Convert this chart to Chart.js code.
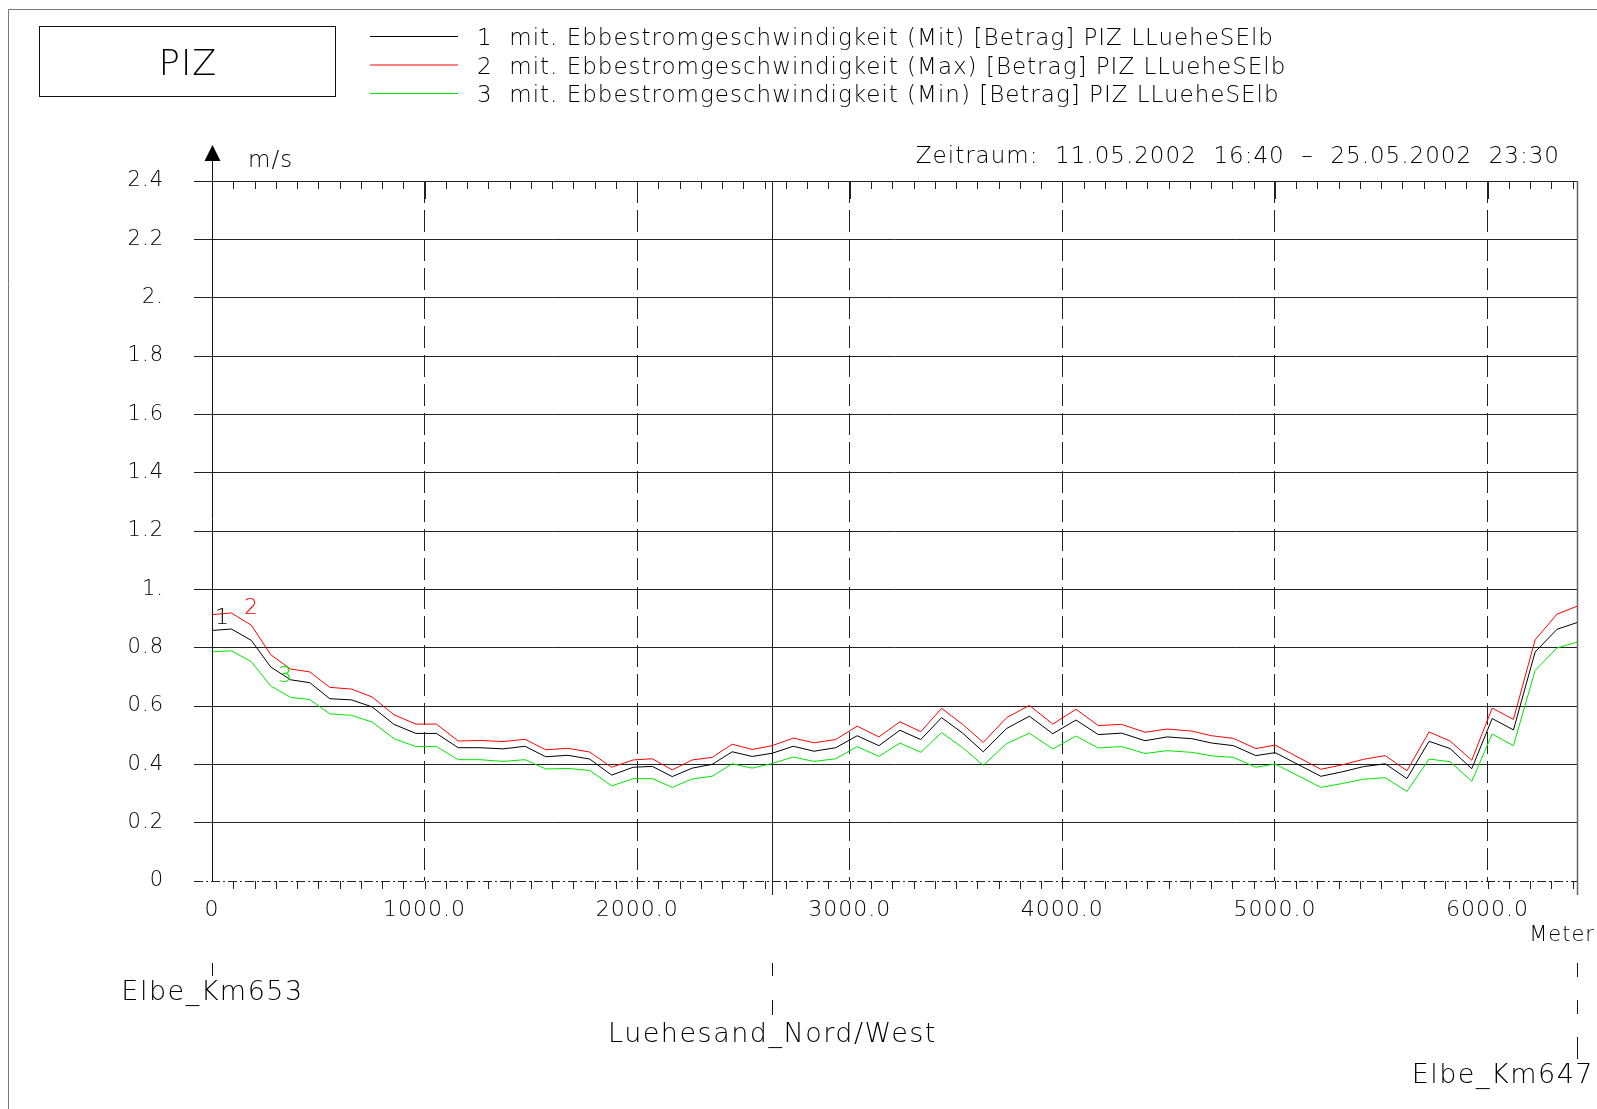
<!DOCTYPE html>
<html>
<head>
<meta charset="utf-8">
<script src="https://cdn.jsdelivr.net/npm/chart.js@4.4.1/dist/chart.umd.min.js"></script>
<style>
  html, body { margin: 0; padding: 0; background: #fff; }
  #chart { display: block; }
</style>
</head>
<body>
<canvas id="chart" width="1597" height="1109"></canvas>
<script>
// Abstand entlang des Profils (Meter)
const distances = [0, 91, 185, 276, 369, 460, 554, 656, 753, 856, 959, 1056, 1158, 1260, 1369, 1472,
  1570, 1675, 1777, 1880, 1981, 2071, 2165, 2259, 2353, 2447, 2541, 2635, 2734, 2832, 2934,
  3035, 3137, 3236, 3334, 3432, 3531, 3628, 3738, 3845, 3955, 4064, 4169, 4279, 4389, 4493,
  4609, 4703, 4805, 4910, 5001, 5216, 5315, 5416, 5519, 5621, 5725, 5824, 5926, 6022, 6122,
  6224, 6327, 6421];

const mitValues = [0.859, 0.864, 0.825, 0.734, 0.690, 0.680, 0.625, 0.621, 0.597, 0.537,
  0.506, 0.506, 0.457, 0.457, 0.453, 0.462, 0.426, 0.431, 0.418, 0.363,
  0.390, 0.393, 0.358, 0.387, 0.400, 0.443, 0.427, 0.438, 0.462, 0.445,
  0.457, 0.498, 0.464, 0.517, 0.485, 0.560, 0.507, 0.443, 0.523, 0.565,
  0.505, 0.552, 0.502, 0.507, 0.481, 0.494, 0.488, 0.473, 0.464, 0.430,
  0.440, 0.359, 0.374, 0.392, 0.402, 0.351, 0.479, 0.454, 0.385, 0.557,
  0.518, 0.785, 0.863, 0.886];

const maxValues = [0.913, 0.919, 0.877, 0.776, 0.727, 0.717, 0.664, 0.658, 0.631, 0.570,
  0.538, 0.538, 0.480, 0.482, 0.478, 0.486, 0.450, 0.455, 0.442, 0.390,
  0.415, 0.419, 0.381, 0.415, 0.424, 0.469, 0.451, 0.464, 0.490, 0.474,
  0.485, 0.531, 0.494, 0.546, 0.512, 0.592, 0.537, 0.475, 0.560, 0.602,
  0.538, 0.589, 0.533, 0.537, 0.510, 0.521, 0.514, 0.498, 0.489, 0.454,
  0.466, 0.383, 0.398, 0.417, 0.430, 0.378, 0.511, 0.480, 0.414, 0.593,
  0.554, 0.827, 0.915, 0.942];

const minValues = [0.786, 0.789, 0.752, 0.669, 0.630, 0.622, 0.573, 0.568, 0.545, 0.488,
  0.461, 0.461, 0.416, 0.416, 0.410, 0.416, 0.384, 0.386, 0.379, 0.326,
  0.351, 0.351, 0.321, 0.350, 0.359, 0.402, 0.387, 0.403, 0.425, 0.410,
  0.419, 0.461, 0.427, 0.473, 0.441, 0.509, 0.457, 0.397, 0.471, 0.507,
  0.453, 0.497, 0.456, 0.461, 0.437, 0.447, 0.441, 0.429, 0.424, 0.390,
  0.401, 0.321, 0.334, 0.349, 0.354, 0.307, 0.418, 0.409, 0.342, 0.504,
  0.464, 0.722, 0.799, 0.819];

const yTicks = [0, 0.2, 0.4, 0.6, 0.8, 1.0, 1.2, 1.4, 1.6, 1.8, 2.0, 2.2, 2.4];
const yTickLabels = ['0', '0.2', '0.4', '0.6', '0.8', '1.', '1.2', '1.4', '1.6', '1.8', '2.', '2.2', '2.4'];
const xTicks = [0, 1000, 2000, 3000, 4000, 5000, 6000];
const xTickLabels = ['0', '1000.0', '2000.0', '3000.0', '4000.0', '5000.0', '6000.0'];

const seriesNames = [
  '1  mit. Ebbestromgeschwindigkeit (Mit) [Betrag] PIZ LLueheSElb',
  '2  mit. Ebbestromgeschwindigkeit (Max) [Betrag] PIZ LLueheSElb',
  '3  mit. Ebbestromgeschwindigkeit (Min) [Betrag] PIZ LLueheSElb'
];
const seriesColors = ['#000000', '#ff0000', '#00e600'];

const sectionNames = ['Elbe_Km653', 'Luehesand_Nord/West', 'Elbe_Km647'];
const sectionDistances = [0, 2635, 6421];

const FONT = "'DejaVu Sans', sans-serif";
const xMax = 6421;

function toPoints(values) {
  return distances.map((d, i) => ({ x: d, y: values[i] }));
}

// Rahmen, Legende, Zusatzlinien und Beschriftungen
const decorations = {
  id: 'decorations',
  beforeDraw(chart) {
    // etwas breitere Schrift wie im CAD-Plot
    chart.ctx.letterSpacing = '1px';
  },
  beforeDatasetsDraw(chart) {
    const ctx = chart.ctx;
    const xs = chart.scales.x, ys = chart.scales.y;
    const top = ys.getPixelForValue(2.4), bottom = ys.getPixelForValue(0);
    ctx.save();
    ctx.strokeStyle = '#222';
    ctx.lineWidth = 1;
    // Kleine Striche oben und unten alle 100 m
    for (let m = 100; m < xMax; m += 100) {
      const px = Math.round(xs.getPixelForValue(m)) + 0.5;
      const len = m % 1000 === 0 ? 18 : 8;
      ctx.beginPath();
      ctx.moveTo(px, top); ctx.lineTo(px, top + len);
      ctx.moveTo(px, bottom); ctx.lineTo(px, bottom + 8);
      ctx.stroke();
    }
    // Null-Linie strichpunktiert
    ctx.setLineDash([9, 3, 2, 3]);
    ctx.beginPath();
    ctx.moveTo(194, Math.round(bottom) + 0.5);
    ctx.lineTo(xs.getPixelForValue(xMax), Math.round(bottom) + 0.5);
    ctx.stroke();
    ctx.setLineDash([]);
    // Luehesand-Linie und rechter Rand
    const pl = Math.round(xs.getPixelForValue(sectionDistances[1])) + 0.5;
    ctx.beginPath();
    ctx.moveTo(pl, top); ctx.lineTo(pl, bottom + 14);
    ctx.stroke();
    const pr = Math.round(xs.getPixelForValue(xMax)) + 0.5;
    ctx.strokeStyle = '#666';
    ctx.lineWidth = 1.5;
    ctx.beginPath();
    ctx.moveTo(pr, top); ctx.lineTo(pr, bottom + 14);
    ctx.stroke();
    ctx.restore();
  },
  afterDraw(chart) {
    const ctx = chart.ctx;
    const xs = chart.scales.x, ys = chart.scales.y;
    const bottom = ys.getPixelForValue(0);
    const x0 = Math.round(xs.getPixelForValue(0)) + 0.5;
    ctx.save();
    // Aeusserer Rahmen
    ctx.strokeStyle = '#777';
    ctx.lineWidth = 1;
    ctx.beginPath();
    ctx.moveTo(8.5, 1109); ctx.lineTo(8.5, 9.5); ctx.lineTo(1597, 9.5);
    ctx.stroke();
    // PIZ-Kasten
    ctx.strokeStyle = '#111';
    ctx.strokeRect(39.5, 26.5, 296, 70);
    ctx.fillStyle = '#000';
    ctx.textBaseline = 'middle';
    ctx.textAlign = 'center';
    ctx.letterSpacing = '1px';
    ctx.font = '200 35px ' + FONT;
    ctx.fillText('PIZ', 188, 66);
    // Legende
    ctx.font = '200 23px ' + FONT;
    ctx.textAlign = 'left';
    const legendY = [36.5, 65, 93.5];
    seriesNames.forEach((name, i) => {
      ctx.strokeStyle = seriesColors[i];
      ctx.beginPath();
      ctx.moveTo(370, legendY[i]); ctx.lineTo(458, legendY[i]);
      ctx.stroke();
      ctx.fillStyle = '#000';
      ctx.fillText(name, 477, legendY[i] + 3);
    });
    // Zeitraum
    ctx.textAlign = 'right';
    ctx.fillText('Zeitraum:  11.05.2002  16:40  \u2013  25.05.2002  23:30', 1560, 157);
    // Einheit und Pfeil
    ctx.textAlign = 'left';
    ctx.fillText('m/s', 248, 161);
    ctx.strokeStyle = '#111';
    ctx.beginPath();
    ctx.moveTo(x0, bottom); ctx.lineTo(x0, 158);
    ctx.stroke();
    ctx.beginPath();
    ctx.moveTo(x0, 145); ctx.lineTo(x0 - 8, 161); ctx.lineTo(x0 + 8, 161);
    ctx.closePath(); ctx.fill();
    // Meter
    ctx.font = '200 21px ' + FONT;
    ctx.textAlign = 'right';
    ctx.fillText('Meter', 1595, 936);
    // Profilpunkte unten
    const secX = sectionDistances.map(d => Math.round(xs.getPixelForValue(d)) + 0.5);
    ctx.beginPath();
    ctx.moveTo(secX[0], 963); ctx.lineTo(secX[0], 976);
    ctx.moveTo(secX[1], 963); ctx.lineTo(secX[1], 976);
    ctx.moveTo(secX[1], 1000); ctx.lineTo(secX[1], 1015);
    ctx.moveTo(secX[2], 963); ctx.lineTo(secX[2], 977);
    ctx.moveTo(secX[2], 1000); ctx.lineTo(secX[2], 1014);
    ctx.moveTo(secX[2], 1037); ctx.lineTo(secX[2], 1059);
    ctx.stroke();
    ctx.font = '200 27px ' + FONT;
    ctx.letterSpacing = '1.5px';
    ctx.textAlign = 'center';
    ctx.fillText(sectionNames[0], secX[0], 993);
    ctx.fillText(sectionNames[1], secX[1], 1035);
    ctx.textAlign = 'right';
    ctx.fillText(sectionNames[2], 1594, 1076);
    // Kurvennummern
    ctx.letterSpacing = '0px';
    ctx.font = '200 22px ' + FONT;
    ctx.textAlign = 'center';
    ctx.fillStyle = seriesColors[0];
    ctx.fillText('1', 222, 618);
    ctx.fillStyle = seriesColors[1];
    ctx.fillText('2', 251, 608);
    ctx.fillStyle = seriesColors[2];
    ctx.fillText('3', 285, 676);
    ctx.restore();
  }
};

const ctx = document.getElementById('chart').getContext('2d');
const chart = new Chart(ctx, {
  type: 'line',
  data: {
    datasets: [
      { label: seriesNames[0], data: toPoints(mitValues), borderColor: seriesColors[0] },
      { label: seriesNames[1], data: toPoints(maxValues), borderColor: seriesColors[1] },
      { label: seriesNames[2], data: toPoints(minValues), borderColor: seriesColors[2] }
    ]
  },
  options: {
    responsive: false,
    animation: false,
    devicePixelRatio: 1,
    layout: { padding: { left: 0, top: 181, right: 20, bottom: 0 } },
    elements: {
      line: { borderWidth: 1, tension: 0 },
      point: { radius: 0 }
    },
    plugins: {
      legend: { display: false },
      tooltip: { enabled: false }
    },
    scales: {
      x: {
        type: 'linear',
        min: 0,
        max: xMax,
        afterFit: s => { s.height = 228; },
        afterBuildTicks: s => { s.ticks = xTicks.map(v => ({ value: v })); },
        ticks: {
          callback: (v, i) => xTickLabels[i],
          color: '#000',
          padding: 16,
          maxRotation: 0,
          autoSkip: false,
          font: { family: FONT, size: 22, weight: 200 }
        },
        grid: {
          color: c => (c.tick && c.tick.value === 0) ? 'rgba(0,0,0,0)' : '#222',
          drawTicks: false,
          lineWidth: 1
        },
        border: { display: false, dash: [22, 7] }
      },
      y: {
        type: 'linear',
        min: 0,
        max: 2.4,
        afterFit: s => { s.width = 212; },
        afterBuildTicks: s => { s.ticks = yTicks.map(v => ({ value: v })); },
        ticks: {
          callback: (v, i) => yTickLabels[i],
          color: '#000',
          padding: 30,
          font: { family: FONT, size: 21, weight: 200 }
        },
        grid: {
          color: c => (c.tick && c.tick.value === 0) ? 'rgba(0,0,0,0)' : '#222',
          tickLength: 18,
          lineWidth: 1
        },
        border: { display: false }
      }
    }
  },
  plugins: [decorations]
});
</script>
</body>
</html>
